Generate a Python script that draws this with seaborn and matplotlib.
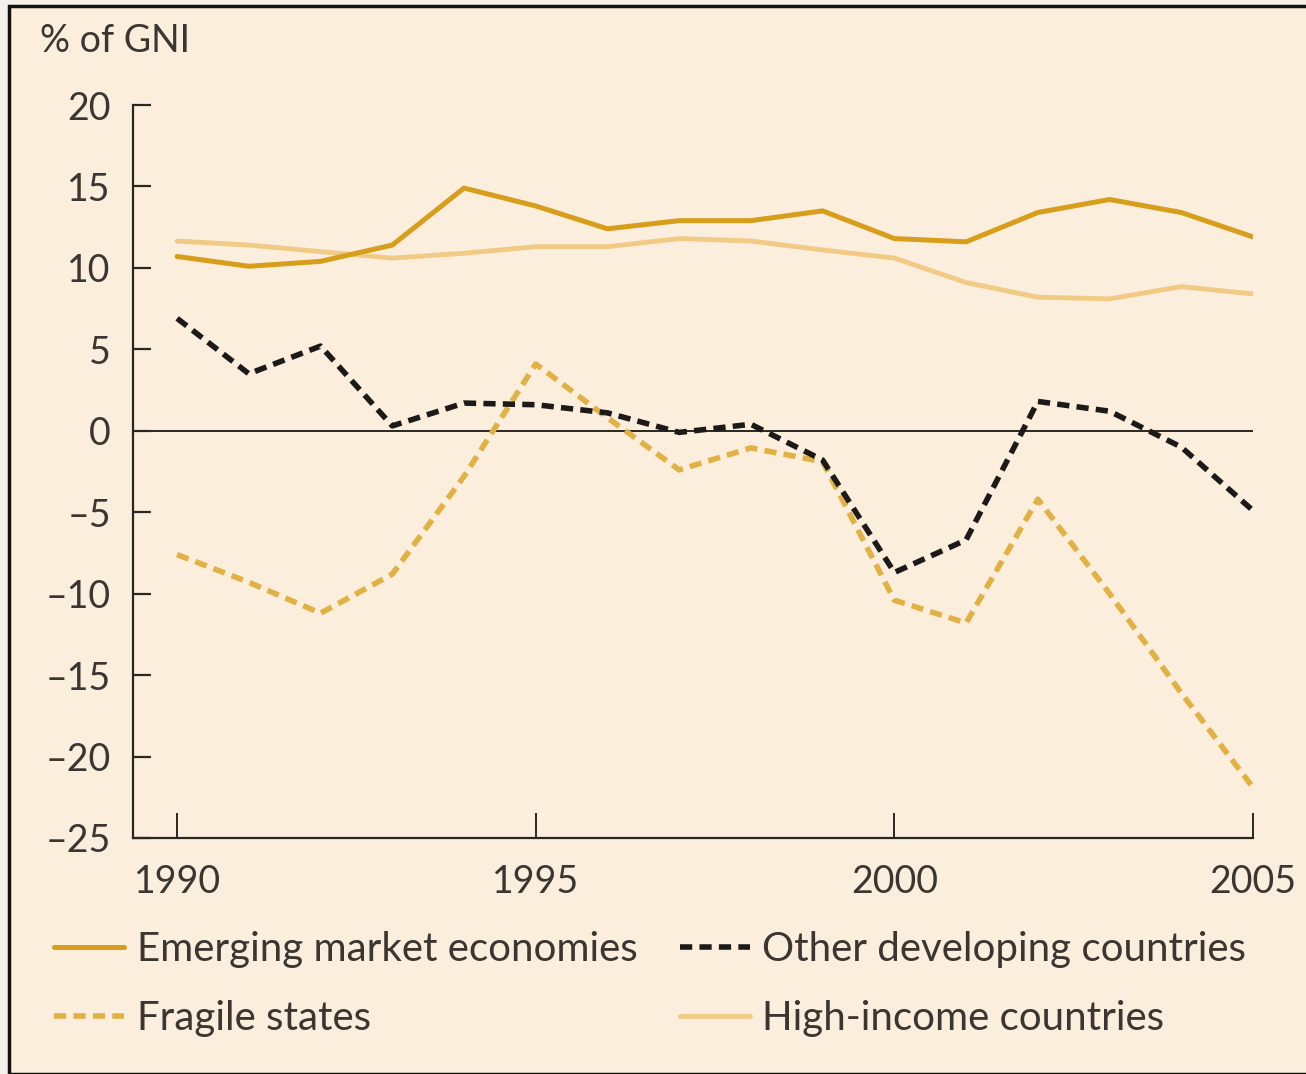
import numpy as np
import pandas as pd
import matplotlib
matplotlib.use("Agg")
import matplotlib.pyplot as plt
import seaborn as sns
from matplotlib.patches import Rectangle

years = list(range(1990, 2006))
emerging = [10.7, 10.1, 10.4, 11.4, 14.9, 13.8, 12.4, 12.9, 12.9, 13.5, 11.8, 11.6, 13.4, 14.2, 13.4, 11.9]
high_income = [11.65, 11.4, 11.0, 10.6, 10.9, 11.3, 11.3, 11.8, 11.65, 11.1, 10.6, 9.1, 8.2, 8.1, 8.85, 8.4]
other_dev = [6.9, 3.5, 5.2, 0.3, 1.7, 1.6, 1.1, -0.1, 0.4, -1.8, -8.7, -6.7, 1.8, 1.2, -1.0, -4.9]
fragile = [-7.6, -9.3, -11.2, -8.8, -2.8, 4.1, 0.8, -2.4, -1.05, -1.9, -10.4, -11.8, -4.2, -10.0, -16.1, -21.9]

labels = ["Emerging market economies", "Fragile states",
          "Other developing countries", "High-income countries"]
y_ticks = [20, 15, 10, 5, 0, -5, -10, -15, -20, -25]
x_ticks = [1990, 1995, 2000, 2005]

panel = "#FBEEDC"
ink = "#3b3631"

sns.set_style("white")
plt.rcParams["font.family"] = ["Lato", "DejaVu Sans"]

W, H = 1306, 1074
fig = plt.figure(figsize=(W / 100, H / 100), dpi=100)
fig.patch.set_facecolor("#F4F0EA")
fig.patches.append(Rectangle((9 / W, 0), 1.0, 1 - 6 / H, transform=fig.transFigure,
                             facecolor=panel, edgecolor="#111111", linewidth=2.5,
                             zorder=-5))

ax = fig.add_axes([133 / W, 1 - 838 / H, (1253 - 133) / W, (838 - 105) / H])
ax.set_facecolor("none")
ax.set_zorder(2)

df = pd.DataFrame({"year": years, labels[0]: emerging, labels[1]: fragile,
                   labels[2]: other_dev, labels[3]: high_income})

dash = (0, (2.2, 1.3))
styles = {
    labels[0]: dict(color="#D79E1C", linestyle="-", linewidth=3.6),
    labels[1]: dict(color="#E2B143", linestyle=dash, linewidth=4.0),
    labels[2]: dict(color="#1c1a18", linestyle=dash, linewidth=4.0),
    labels[3]: dict(color="#F1CB85", linestyle="-", linewidth=3.5),
}
order = [labels[3], labels[0], labels[1], labels[2]]
handles = {}
for lab in order:
    sns.lineplot(data=df, x="year", y=lab, ax=ax, label=lab, **styles[lab])
    handles[lab] = ax.get_lines()[-1]
ax.get_legend().remove()

ax.axhline(0, color="#2a2622", linewidth=1.4, zorder=1)

ax.set_xlim(1989.385, 2005)
ax.set_ylim(-25, 20)
ax.set_xticks(x_ticks)
ax.set_yticks(y_ticks)
ax.set_yticklabels([str(v).replace("-", "\u2013") for v in y_ticks])
ax.set_xlabel("")
ax.set_ylabel("")
for s in ["top", "right"]:
    ax.spines[s].set_visible(False)
for s in ["left", "bottom"]:
    ax.spines[s].set_color("#2a2622")
    ax.spines[s].set_linewidth(1.6)
ax.tick_params(axis="y", left=True, direction="in", length=13, width=1.6,
               color="#2a2622", labelsize=27, labelcolor=ink, pad=16)
ax.tick_params(axis="x", bottom=True, direction="in", length=18, width=1.4,
               color="#2a2622", labelsize=27, labelcolor=ink, pad=19)

fig.text(40 / W, 1 - 52 / H, "% of GNI", fontsize=27, color=ink, va="baseline")

leg = fig.legend([handles[l] for l in labels], labels, ncol=2, frameon=False,
                 loc="upper left", bbox_to_anchor=(54 / W, 1 - 931 / H),
                 fontsize=29, handlelength=1.75, handletextpad=0.3,
                 columnspacing=1.05, labelspacing=0.8, borderpad=0,
                 borderaxespad=0)
for t in leg.get_texts():
    t.set_color(ink)

fig.savefig("out.png", dpi=100, facecolor=fig.get_facecolor())
